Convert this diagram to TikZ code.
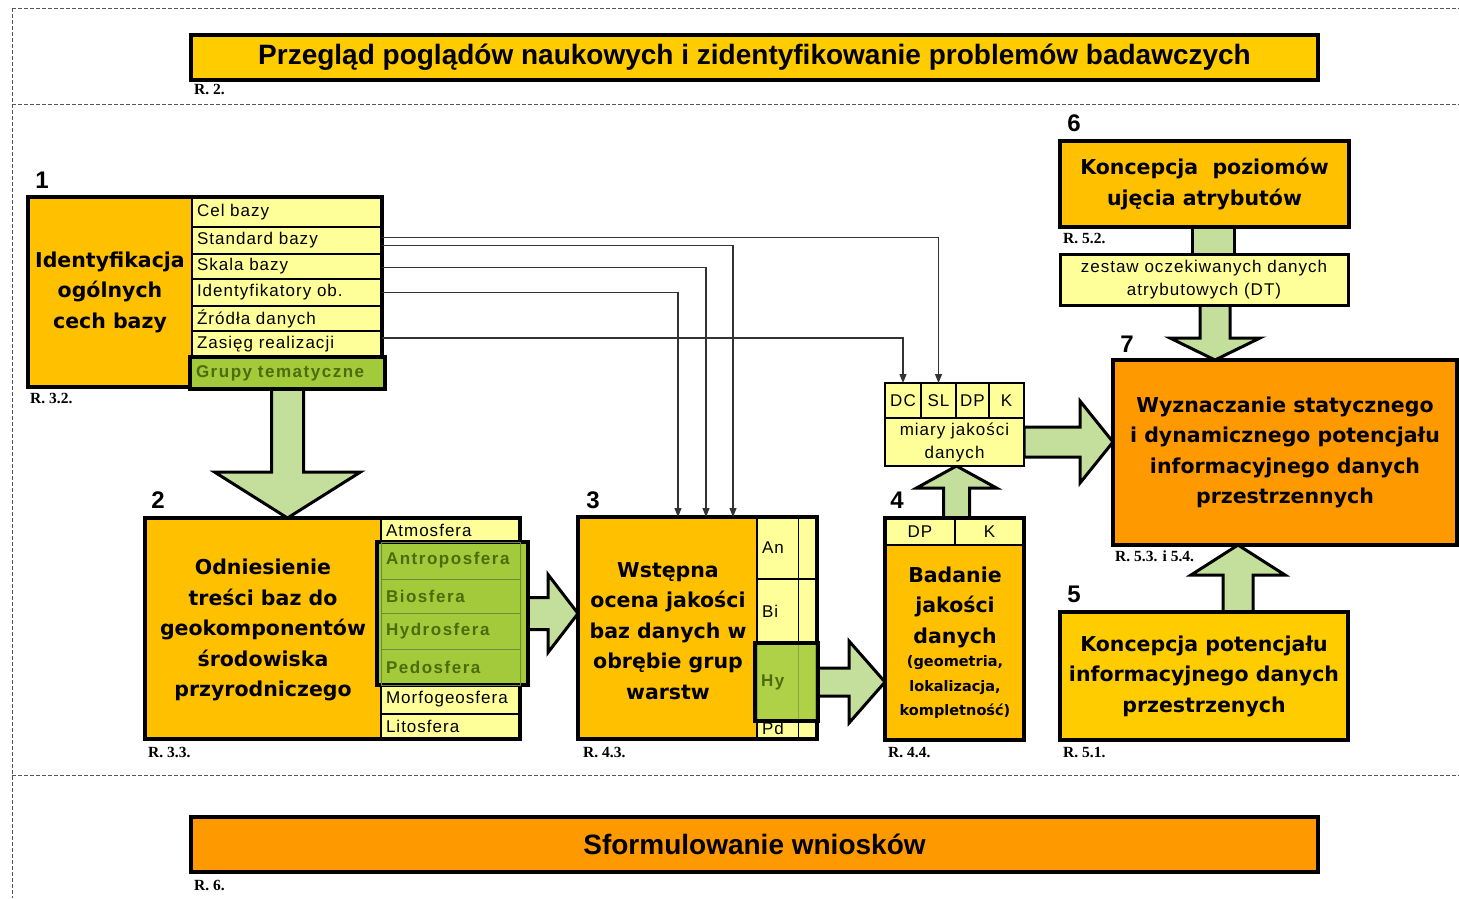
\documentclass[tikz,border=0pt]{standalone}
\usepackage{fontspec}
\setmainfont{Liberation Sans}
\newfontfamily\boxfont{DejaVu Sans}
\newfontfamily\labfont[LetterSpace=6]{Liberation Sans}
\newfontfamily\grpfont[LetterSpace=9]{Liberation Sans}
\newfontfamily\reffont{Liberation Serif}
\usetikzlibrary{arrows.meta,calc}

\definecolor{boxgold}{HTML}{FFC000}
\definecolor{titlegold}{HTML}{FFCC00}
\definecolor{boxorange}{HTML}{FF9900}
\definecolor{paleyellow}{HTML}{FFFF99}
\definecolor{grpgreen}{HTML}{A2CA3A}
\definecolor{grptext}{HTML}{4D6B0A}
\definecolor{arrowgreen}{HTML}{C4DF9B}
\definecolor{sepgray}{HTML}{555555}

\pgfdeclarelayer{back}
\pgfsetlayers{back,main}

\tikzset{
  base/.style={anchor=north west, inner sep=0pt, outer sep=0pt},
  heavy/.style={draw=black, line width=3.5pt},
  mainfill/.style={base, fill=boxgold},
  maintext/.style={inner sep=0pt, align=center, font=\boxfont\bfseries\fontsize{20.5}{30.5}\selectfont},
  subtext/.style={inner sep=0pt, align=center, font=\boxfont\bfseries\fontsize{14.5}{24.5}\selectfont},
  cellrow/.style={base, draw=black, line width=1.2pt, fill=paleyellow, align=left, inner xsep=5pt,
    font=\labfont\fontsize{17}{19}\selectfont},
  cellc/.style={base, draw=black, line width=1.2pt, fill=paleyellow, align=center,
    font=\labfont\fontsize{17}{23}\selectfont},
  grpbox/.style={base, draw=black, line width=3.5pt, fill=grpgreen, text=grptext, align=left, inner xsep=6pt,
    font=\grpfont\bfseries\fontsize{17}{19}\selectfont},
  grprow/.style={base, draw=grptext!80, line width=1pt, text=grptext, align=left, inner xsep=5pt,
    font=\grpfont\bfseries\fontsize{17}{19}\selectfont},
  titlefont/.style={font=\bfseries\fontsize{28}{30}\selectfont},
  numlab/.style={inner sep=0pt, font=\bfseries\fontsize{24}{24}\selectfont},
  reflab/.style={anchor=west, inner sep=0pt, font=\reffont\bfseries\fontsize{15.5}{15.5}\selectfont},
  sep/.style={draw=sepgray, line width=1pt, dash pattern=on 4pt off 2pt},
  fatarrow/.style={fill=arrowgreen, draw=black, line width=3pt, line join=miter},
  link/.style={draw=black!80, line width=1.1pt, -{Triangle[length=9pt,width=7pt]}},
}

% block arrows: #1 start, #2 target, #3 shaft half width, #4 head half width, #5 head length
\newcommand\arrowDown[5]{\path[fatarrow] let \p1=(#1), \p2=(#2) in
  (\x1-#3,\y1) -- (\x1-#3,\y2+#5) -- (\x1-#4,\y2+#5) -- (\x1,\y2) -- (\x1+#4,\y2+#5)
  -- (\x1+#3,\y2+#5) -- (\x1+#3,\y1) -- cycle;}
\newcommand\arrowUp[5]{\path[fatarrow] let \p1=(#1), \p2=(#2) in
  (\x1-#3,\y1) -- (\x1-#3,\y2-#5) -- (\x1-#4,\y2-#5) -- (\x1,\y2) -- (\x1+#4,\y2-#5)
  -- (\x1+#3,\y2-#5) -- (\x1+#3,\y1) -- cycle;}
\newcommand\arrowRight[5]{\path[fatarrow] let \p1=(#1), \p2=(#2) in
  (\x1,\y1+#3) -- (\x2-#5,\y1+#3) -- (\x2-#5,\y1+#4) -- (\x2,\y1) -- (\x2-#5,\y1-#4)
  -- (\x2-#5,\y1-#3) -- (\x1,\y1-#3) -- cycle;}

\begin{document}
\begin{tikzpicture}[x=1pt,y=-1pt]
\useasboundingbox (0,0) rectangle (1459,898);

% section separators
\draw[sep] (12,8) -- (1459,8);
\draw[sep] (12,8) -- (12,898);
\draw[sep] (12,104) -- (1459,104);
\draw[sep] (12,775) -- (1459,775);

% top and bottom stages
\node[base, heavy, fill=titlegold, minimum width=1127pt, minimum height=45pt, titlefont] (title) at (191,35)
  {Przegląd poglądów naukowych i zidentyfikowanie problemów badawczych};
\node[reflab] (rtitle) at (194,89) {R. 2.};
\node[base, heavy, fill=boxorange, minimum width=1127pt, minimum height=55pt, titlefont] (concl) at (191,817)
  {Sformulowanie wniosków};
\node[reflab] (rconcl) at (194,885) {R. 6.};

% block 1
\node[mainfill, minimum width=354pt, minimum height=190pt] (b1) at (28,197) {};
\node[maintext] (b1t) at (110,292) {Identyfikacja\\ogólnych\\cech bazy};
\node[cellrow, text width=180pt, minimum height=30pt] (cel) at (192,197) {Cel bazy};
\node[cellrow, text width=180pt, minimum height=27pt] (stand) at (192,227) {Standard bazy};
\node[cellrow, text width=180pt, minimum height=25pt] (skala) at (192,254) {Skala bazy};
\node[cellrow, text width=180pt, minimum height=27pt] (ident) at (192,279) {Identyfikatory ob.};
\node[cellrow, text width=180pt, minimum height=25pt] (zrodla) at (192,306) {Źródła danych};
\node[cellrow, text width=180pt, minimum height=26pt] (zasieg) at (192,331) {Zasięg realizacji};
\draw[heavy] (b1.north west) rectangle (b1.south east);
\node[grpbox, text width=183pt, minimum height=32pt] (grupy) at (190,357) {Grupy tematyczne};
\node[numlab] (n1) at (42,180) {1};
\node[reflab] (r1) at (30,398) {R. 3.2.};

% block 2
\node[mainfill, minimum width=375pt, minimum height=221pt] (b2) at (145,518) {};
\node[maintext] (b2t) at (263,630) {Odniesienie\\treści baz do\\geokomponentów\\środowiska\\przyrodniczego};
\node[cellrow, text width=129pt, minimum height=24pt] (atm) at (381,518) {Atmosfera};
\node[cellrow, text width=129pt, minimum height=29pt] (morfo) at (381,685) {Morfogeosfera};
\node[cellrow, text width=129pt, minimum height=25pt] (lito) at (381,714) {Litosfera};
\draw[heavy] (b2.north west) rectangle (b2.south east);
\node[base, heavy, fill=grpgreen, minimum width=151pt, minimum height=143pt] (geo) at (377,542) {};
\node[grprow, text width=129pt, minimum height=37pt] (antr) at (381,542) {Antroposfera};
\node[grprow, text width=129pt, minimum height=34pt] (bio) at (381,579) {Biosfera};
\node[grprow, text width=129pt, minimum height=36pt] (hydro) at (381,613) {Hydrosfera};
\node[grprow, text width=129pt, minimum height=36pt] (pedo) at (381,649) {Pedosfera};
\node[numlab] (n2) at (158,500) {2};
\node[reflab] (r2) at (148,752) {R. 3.3.};

% block 3
\node[mainfill, minimum width=239pt, minimum height=222pt] (b3) at (578,517) {};
\node[maintext] (b3t) at (668,631) {Wstępna\\ocena jakości\\baz danych w\\obrębie grup\\warstw};
\node[cellrow, text width=50pt, minimum height=62pt] (an) at (757,517) {An};
\node[cellrow, text width=50pt, minimum height=64pt] (bi) at (757,579) {Bi};
\node[cellrow, text width=50pt, minimum height=77pt] (hyrow) at (757,643) {};
\node[cellrow, text width=50pt, minimum height=19pt, text height=10pt, text depth=1pt] (pd) at (757,720) {Pd};
\draw[line width=1pt] ($(an.north west)+(41,0)$) -- ($(pd.south west)+(41,0)$);
\draw[heavy] (b3.north west) rectangle (b3.south east);
\node[grpbox, fill opacity=0.85, text opacity=1, text width=51pt, minimum height=78pt] (hy) at (755,643) {Hy};
\node[numlab] (n3) at (593,500) {3};
\node[reflab] (r3) at (583,752) {R. 4.3.};

% block 4
\node[mainfill, minimum width=139pt, minimum height=222pt] (b4) at (885,518) {};
\node[cellc, minimum width=70pt, minimum height=27pt] (dp4) at (885,518) {DP};
\node[cellc, minimum width=69pt, minimum height=27pt] (k4) at (955,518) {K};
\node[maintext] (b4t) at (955,607) {Badanie\\jakości\\danych};
\node[subtext] (b4s) at (955,687) {(geometria,\\lokalizacja,\\kompletność)};
\draw[heavy] (b4.north west) rectangle (b4.south east);
\node[numlab] (n4) at (897,500) {4};
\node[reflab] (r4) at (888,752) {R. 4.4.};

% quality measures
\node[cellc, minimum width=36pt, minimum height=35pt] (dc) at (885,383) {DC};
\node[cellc, minimum width=35pt, minimum height=35pt] (sl) at (921,383) {SL};
\node[cellc, minimum width=33pt, minimum height=35pt] (dpm) at (956,383) {DP};
\node[cellc, minimum width=35pt, minimum height=35pt] (km) at (989,383) {K};
\node[cellc, minimum width=139pt, minimum height=48pt] (meas) at (885,418) {miary jakości\\danych};
\draw[line width=2.8pt] (dc.north west) rectangle (meas.south east);

% block 6
\node[base, heavy, fill=boxgold, minimum width=289pt, minimum height=86pt, maintext] (b6) at (1060,141)
  {Koncepcja\ \ poziomów\\ujęcia atrybutów};
\node[numlab] (n6) at (1074,123) {6};
\node[reflab] (r6) at (1063,238) {R. 5.2.};
\node[base, draw=black, line width=3pt, fill=paleyellow, minimum width=288pt, minimum height=51pt,
  align=center, font=\labfont\fontsize{17}{23}\selectfont] (zestaw) at (1060,254)
  {zestaw oczekiwanych danych\\atrybutowych (DT)};

% block 7
\node[base, heavy, fill=boxorange, minimum width=344pt, minimum height=185pt, maintext] (b7) at (1113,360)
  {Wyznaczanie statycznego\\i dynamicznego potencjału\\informacyjnego danych\\przestrzennych};
\node[numlab] (n7) at (1127,344) {7};
\node[reflab] (r7) at (1115,556) {R. 5.3. i 5.4.};

% block 5
\node[base, heavy, fill=titlegold, minimum width=288pt, minimum height=128pt, maintext] (b5) at (1060,612)
  {Koncepcja potencjału\\informacyjnego danych\\przestrzenych};
\node[numlab] (n5) at (1074,594) {5};
\node[reflab] (r5) at (1063,752) {R. 5.1.};

% block arrows between stages
\begin{pgfonlayer}{back}
\arrowDown{grupy.south}{b2.north}{16pt}{73pt}{46pt}
\arrowRight{geo.east}{b3.west}{16pt}{39pt}{30pt}
\arrowRight{hy.east}{b4.west}{14pt}{41pt}{36pt}
\arrowUp{[xshift=2pt]b4.north}{meas.south}{13pt}{40pt}{22pt}
\arrowRight{meas.east}{b7.west}{15pt}{41pt}{33pt}
\path[fatarrow] ([xshift=-12pt]b6.south) rectangle ([xshift=30pt]zestaw.north);
\arrowDown{[xshift=11pt]zestaw.south}{b7.north}{15pt}{45pt}{22pt}
\arrowUp{[xshift=34pt]b5.north}{b7.south}{15pt}{47pt}{30pt}
\end{pgfonlayer}

% feature links
\draw[link] ([yshift=3pt]stand.east) -| (sl.north);
\draw[link] ([yshift=-5pt]stand.east) -| ($(b3.north west)+(155,0)$);
\draw[link] ([yshift=-1pt]skala.east) -| ($(b3.north west)+(128,0)$);
\draw[link] (ident.east) -| ($(b3.north west)+(100,0)$);
\draw[link] ([yshift=6pt]zasieg.east) -| (dc.north);
\end{tikzpicture}
\end{document}
